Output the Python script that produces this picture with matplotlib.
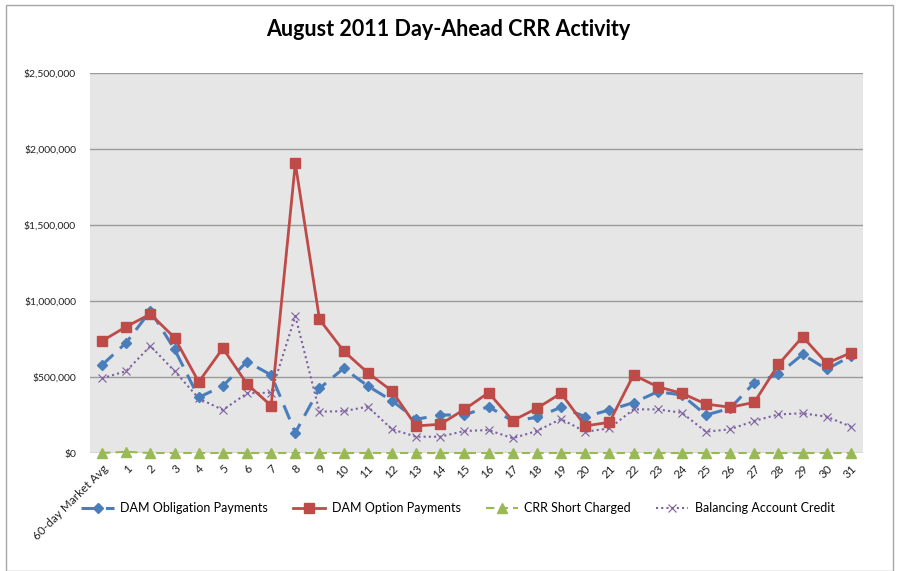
import matplotlib
matplotlib.use("Agg")
import matplotlib.pyplot as plt
from matplotlib.patches import Rectangle
from matplotlib.ticker import FuncFormatter

plt.rcParams["font.family"] = ["Lato", "DejaVu Sans"]

days = ["60-day Market Avg"] + [str(d) for d in range(1, 32)]

obligation = [579, 726, 935, 682, 366, 441, 601, 513, 134, 425, 557, 441,
              344, 222, 250, 250, 305, 210, 235, 301, 239, 283, 331, 403,
              382, 250, 294, 463, 518, 649, 551, 638]
option = [737, 831, 914, 759, 467, 689, 454, 311, 1906, 879, 671, 528,
          408, 178, 189, 287, 397, 213, 294, 393, 178, 202, 513, 436,
          393, 322, 301, 333, 583, 765, 590, 660]
short_charged = [0, 8, 0, 0, 0, 0, 0, 0, 0, 0, 0, 0,
                 0, 0, 0, 0, 0, 0, 0, 0, 0, 0, 0, 0,
                 0, 0, 0, 0, 0, 0, 0, 0]
balancing = [491, 539, 704, 539, 360, 283, 393, 397, 901, 272, 275, 305,
             156, 107, 107, 145, 151, 97, 145, 224, 140, 162, 287, 287,
             265, 140, 156, 211, 254, 261, 239, 173]

fig = plt.figure(figsize=(8.97, 5.71), dpi=100)
fig.patches.append(Rectangle((6 / 897, 0.0), 887 / 897, 1 - 5 / 571,
                             transform=fig.transFigure, fill=False,
                             edgecolor="#A6A6A6", lw=1.0))
ax = fig.add_axes([90 / 897, 1 - 453 / 571, 773 / 897, 380 / 571])
ax.set_facecolor("#E6E6E6")

x = list(range(len(days)))
k = 1000
ax.plot(x, [v * k for v in obligation], color="#4A7EBB", lw=2.2,
        dashes=(5, 3), marker="D", ms=5, label="DAM Obligation Payments",
        zorder=3)
ax.plot(x, [v * k for v in option], color="#BE4B48", lw=2.0, marker="s",
        ms=7, label="DAM Option Payments", zorder=4)
ax.plot(x, [v * k for v in short_charged], color="#98B954", lw=1.5,
        dashes=(4, 2.5), marker="^", ms=6.5, label="CRR Short Charged",
        zorder=5, clip_on=False)
ax.plot(x, [v * k for v in balancing], color="#7D60A0", lw=1.5,
        linestyle=(0, (1, 1.5)), marker="x", ms=6, mew=0.8,
        label="Balancing Account Credit", zorder=2)

ax.set_xlim(-0.5, len(days) - 0.5)
ax.set_ylim(0, 2500000)
ax.set_yticks([0, 500000, 1000000, 1500000, 2000000, 2500000])
ax.yaxis.set_major_formatter(FuncFormatter(lambda v, p: f"${v:,.0f}"))
ax.grid(axis="y", color="#9A9A9A", lw=1.0)
ax.set_axisbelow(True)
for s in ax.spines.values():
    s.set_visible(False)
ax.tick_params(axis="both", length=0, labelsize=7.5, colors="#222222")
ax.tick_params(axis="y", pad=10)
ax.tick_params(axis="x", pad=7)
ax.set_xticks(x)
ax.set_xticklabels(days, rotation=45, ha="right", rotation_mode="anchor",
                   fontsize=8.5)

fig.text(0.5, 1 - 30 / 571, "August 2011 Day-Ahead CRR Activity",
         ha="center", va="center", fontsize=15.5, fontweight="bold")
fig.legend(loc="center", bbox_to_anchor=(458 / 897, 1 - 508 / 571), ncol=4,
           frameon=False, fontsize=9, handlelength=2.6, columnspacing=2.0,
           handletextpad=0.5)

fig.savefig("out.png", dpi=100)
